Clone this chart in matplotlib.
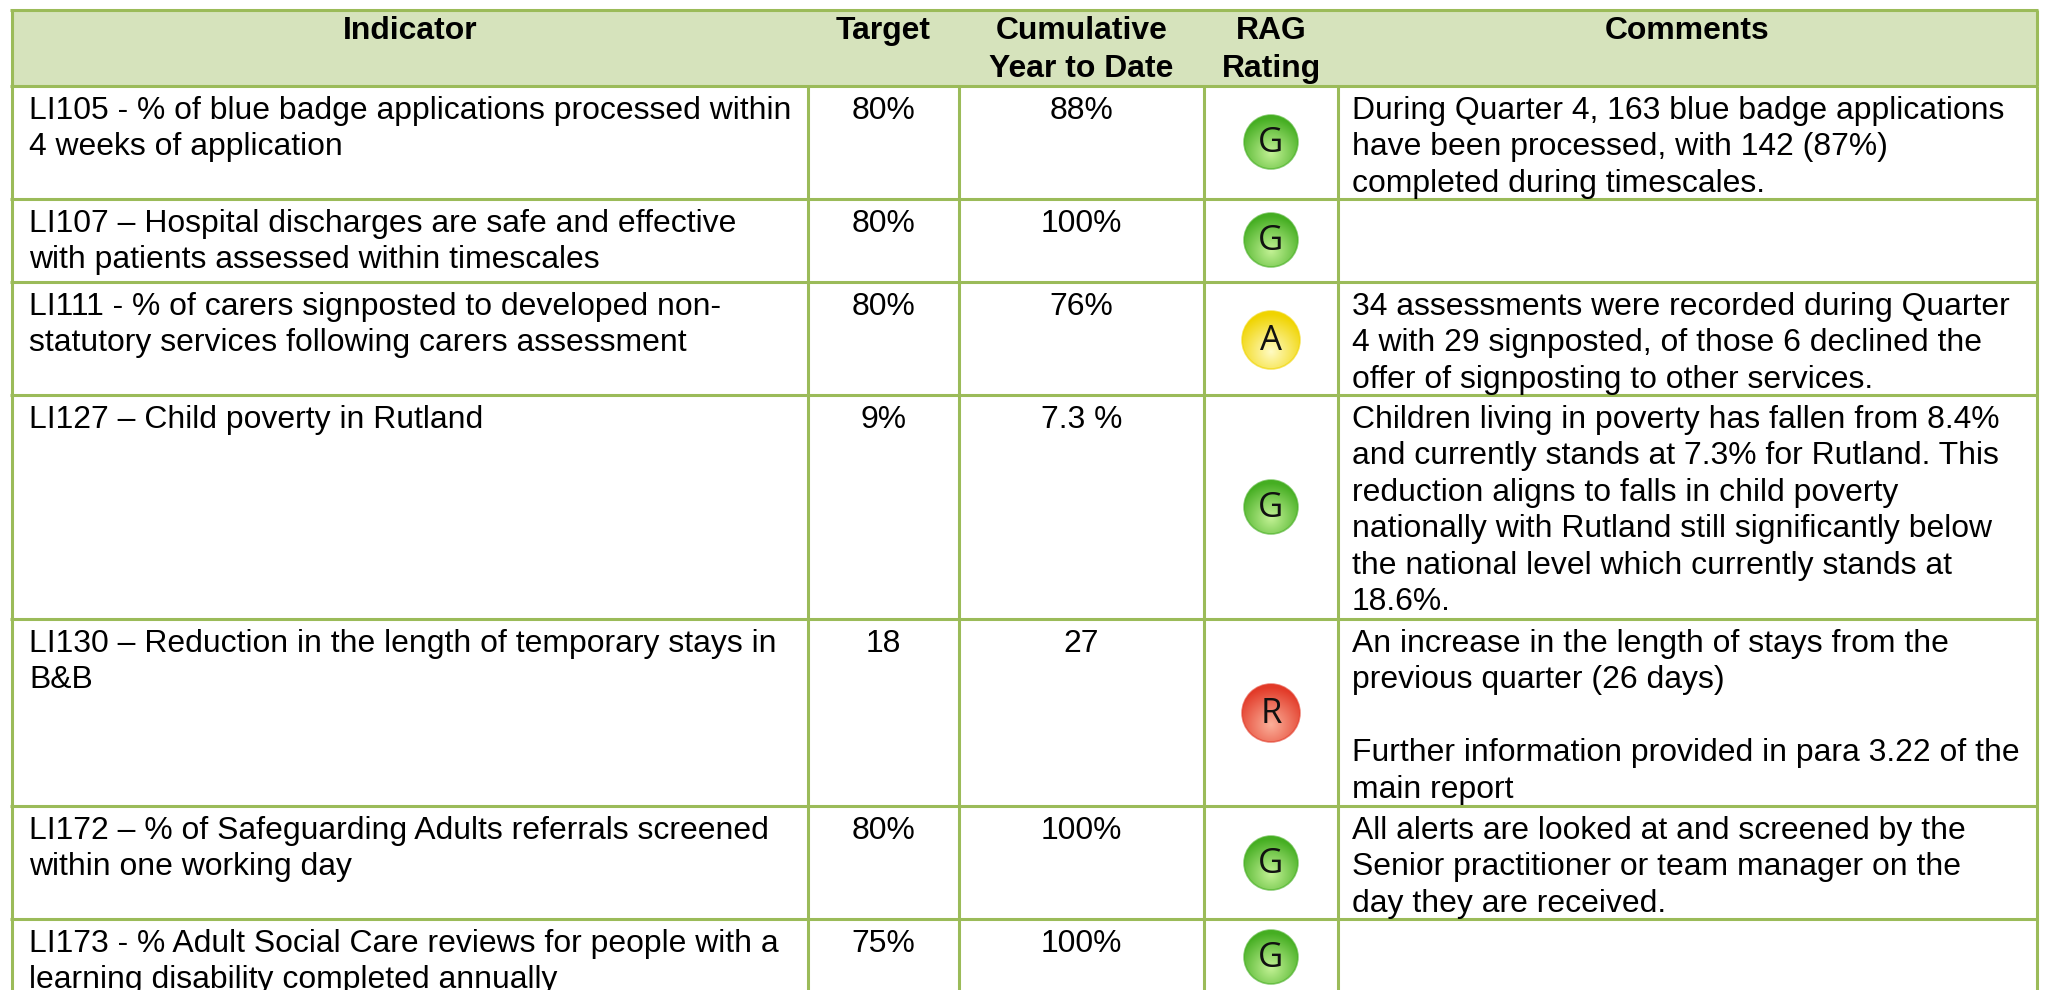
import numpy as np
from matplotlib import pyplot as plt
from matplotlib.colors import to_rgb
from matplotlib.patches import Circle, Rectangle

plt.rcParams['font.family'] = ['Liberation Sans', 'DejaVu Sans']

headers = ["Indicator", "Target", "Cumulative\nYear to Date", "RAG\nRating", "Comments"]
indicators = [
    "LI105 - % of blue badge applications processed within\n4 weeks of application",
    "LI107 \u2013 Hospital discharges are safe and effective\nwith patients assessed within timescales",
    "LI111 - % of carers signposted to developed non-\nstatutory services following carers assessment",
    "LI127 \u2013 Child poverty in Rutland",
    "LI130 \u2013 Reduction in the length of temporary stays in\nB&B",
    "LI172 \u2013 % of Safeguarding Adults referrals screened\nwithin one working day",
    "LI173 - % Adult Social Care reviews for people with a\nlearning disability completed annually",
]
targets = ["80%", "80%", "80%", "9%", "18", "80%", "75%"]
cumulative = ["88%", "100%", "76%", "7.3 %", "27", "100%", "100%"]
ratings = ["G", "G", "A", "G", "R", "G", "G"]
comments = [
    "During Quarter 4, 163 blue badge applications\nhave been processed, with 142 (87%)\ncompleted during timescales.",
    "",
    "34 assessments were recorded during Quarter\n4 with 29 signposted, of those 6 declined the\noffer of signposting to other services.",
    "Children living in poverty has fallen from 8.4%\nand currently stands at 7.3% for Rutland. This\nreduction aligns to falls in child poverty\nnationally with Rutland still significantly below\nthe national level which currently stands at\n18.6%.",
    "An increase in the length of stays from the\nprevious quarter (26 days)\n\nFurther information provided in para 3.22 of the\nmain report",
    "All alerts are looked at and screened by the\nSenior practitioner or team manager on the\nday they are received.",
    "",
]

# table grid in pixels
col_edges = [12, 808, 959, 1204, 1338, 2037]
row_edges = [10, 86, 199, 282, 395, 619, 806, 919, 1010]
badge_y = [142, 240, 340, 507, 713, 863, 957]
badge_r = {"G": 27, "A": 29, "R": 29}

border = "#9BBB59"
header_fill = "#D6E3BC"
badge_colors = {
    "G": ("#45AE22", "#C4F296"),
    "A": ("#F0D400", "#FFFBC4"),
    "R": ("#E23A28", "#FBB09A"),
}
font_pt = 31.9 * 72 / 100
line_gap = 1.278


def draw_badge(ax, x, y, letter):
    dark, light = badge_colors[letter]
    r = badge_r[letter]
    n = 80
    yy, xx = np.mgrid[-1:1:n * 1j, -1:1:n * 1j]
    dist = np.hypot(xx, yy - 0.4)
    t = np.clip(1 - dist / 1.3, 0, 1)[..., None]
    dark_rgb = np.array(to_rgb(dark))
    light_rgb = np.array(to_rgb(light))
    img = dark_rgb + (light_rgb - dark_rgb) * t
    im = ax.imshow(img, extent=(x - r, x + r, y + r, y - r), zorder=3, interpolation="bilinear")
    im.set_clip_path(Circle((x, y), r, transform=ax.transData))
    ax.add_patch(Circle((x, y), r, fill=False, ec=dark, lw=1.2, alpha=0.6, zorder=4))
    ax.text(x, y + 1, letter, ha="center", va="center", fontsize=25,
            family=["Open Sans", "DejaVu Sans"], color="#111111", zorder=5)


fig = plt.figure(figsize=(20.45, 9.9), dpi=100)
ax = fig.add_axes([0, 0, 1, 1])

ax.add_patch(Rectangle((col_edges[0], row_edges[0]), col_edges[-1] - col_edges[0],
                       row_edges[1] - row_edges[0], fc=header_fill, ec="none"))

# header row has no inner dividers, only the outer edges
for x in col_edges:
    ax.plot([x, x], [row_edges[1], row_edges[-1]], color=border, lw=2.2, solid_capstyle="butt")
for x in (col_edges[0], col_edges[-1]):
    ax.plot([x, x], [row_edges[0], row_edges[1]], color=border, lw=2.2, solid_capstyle="butt")
for y in row_edges[:-1]:
    ax.plot([col_edges[0] - 1.5, col_edges[-1] + 1.5], [y, y], color=border, lw=2.2, solid_capstyle="butt")

for i, h in enumerate(headers):
    xc = (col_edges[i] + col_edges[i + 1]) / 2
    ax.text(xc, 16, h, ha="center", va="top", fontsize=font_pt, fontweight="bold",
            linespacing=1.33, color="black")

for i in range(len(indicators)):
    top = row_edges[i + 1] + 10
    ax.text(col_edges[0] + 17, top, indicators[i], ha="left", va="top", fontsize=font_pt,
            linespacing=line_gap, color="black")
    ax.text((col_edges[1] + col_edges[2]) / 2, top, targets[i], ha="center", va="top",
            fontsize=font_pt, color="black")
    ax.text((col_edges[2] + col_edges[3]) / 2, top, cumulative[i], ha="center", va="top",
            fontsize=font_pt, color="black")
    ax.text(col_edges[4] + 14, top, comments[i], ha="left", va="top", fontsize=font_pt,
            linespacing=line_gap, color="black")
    draw_badge(ax, (col_edges[3] + col_edges[4]) / 2, badge_y[i], ratings[i])

ax.set_xlim(0, 2045)
ax.set_ylim(990, 0)
ax.set_aspect("auto")
ax.axis("off")
fig.savefig("out.png", dpi=100, facecolor="white")
